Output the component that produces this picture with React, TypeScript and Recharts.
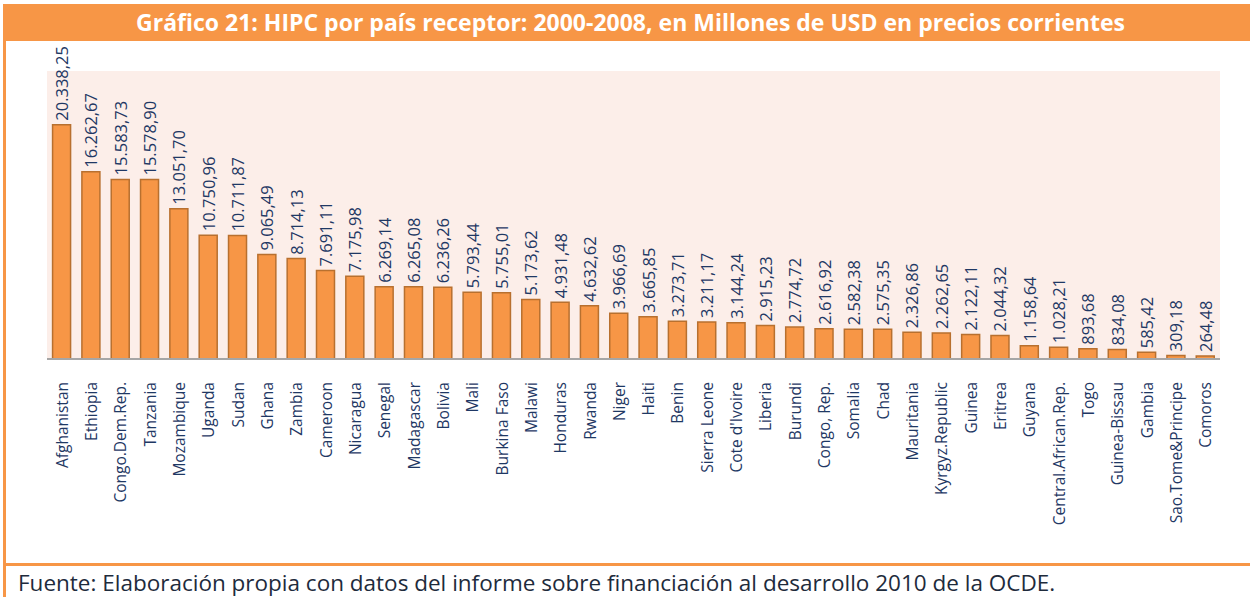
import React from "react";
import { BarChart, Bar, XAxis, YAxis, CartesianGrid, LabelList } from "recharts";

const countries = [
  "Afghanistan", "Ethiopia", "Congo.Dem.Rep.", "Tanzania", "Mozambique", "Uganda", "Sudan", "Ghana",
  "Zambia", "Cameroon", "Nicaragua", "Senegal", "Madagascar", "Bolivia", "Mali", "Burkina Faso",
  "Malawi", "Honduras", "Rwanda", "Niger", "Haiti", "Benin", "Sierra Leone", "Cote d'Ivoire",
  "Liberia", "Burundi", "Congo, Rep.", "Somalia", "Chad", "Mauritania", "Kyrgyz.Republic", "Guinea",
  "Eritrea", "Guyana", "Central.African.Rep.", "Togo", "Guinea-Bissau", "Gambia", "Sao.Tome&Principe", "Comoros",
];

const hipcValues = [
  20338.25, 16262.67, 15583.73, 15578.9, 13051.7, 10750.96, 10711.87, 9065.49,
  8714.13, 7691.11, 7175.98, 6269.14, 6265.08, 6236.26, 5793.44, 5755.01,
  5173.62, 4931.48, 4632.62, 3966.69, 3665.85, 3273.71, 3211.17, 3144.24,
  2915.23, 2774.72, 2616.92, 2582.38, 2575.35, 2326.86, 2262.65, 2122.11,
  2044.32, 1158.64, 1028.21, 893.68, 834.08, 585.42, 309.18, 264.48,
];

const yDomain = [0, 25000];

const TITLE = "Gráfico 21: HIPC por país receptor: 2000-2008, en Millones de USD en precios corrientes";
const SOURCE = "Fuente: Elaboración propia con datos del informe sobre financiación al desarrollo 2010 de la OCDE.";

const data = countries.map((c, i) => ({ name: c, value: hipcValues[i] }));

const ORANGE = "#F79646";
const NAVY = "#1F3864";
const FONT = "'Open Sans', 'Noto Sans', sans-serif";

function fmt(v: number): string {
  const [intPart, dec] = v.toFixed(2).split(".");
  const withDots = intPart.replace(/\B(?=(\d{3})+(?!\d))/g, ".");
  return `${withDots},${dec}`;
}

const ValueLabel = (props: any) => {
  const { x, y, width, value } = props;
  const cx = Number(x) + Number(width) / 2;
  const cy = Number(y) - 4;
  return (
    <text
      x={cx}
      y={cy}
      transform={`rotate(-90, ${cx}, ${cy})`}
      textAnchor="start"
      dominantBaseline="central"
      fill={NAVY}
      fontSize={16.5}
      fontFamily={FONT}
    >
      {fmt(Number(value))}
    </text>
  );
};

const CategoryTick = (props: any) => {
  const { x, y, payload } = props;
  const ty = Number(y);
  return (
    <text
      x={x}
      y={ty}
      transform={`rotate(-90, ${x}, ${ty})`}
      textAnchor="end"
      dominantBaseline="central"
      fill={NAVY}
      fontSize={15.5}
      fontFamily={FONT}
    >
      {payload.value}
    </text>
  );
};

export default function App() {
  return (
    <div style={{ position: "absolute", left: 0, top: 0, width: 1250, height: 597, background: "#fff", overflow: "hidden" }}>
      <div style={{ position: "absolute", left: 3, top: 4, width: 2.5, height: 593, background: ORANGE }} />
      <div
        style={{
          position: "absolute", left: 3, top: 4, width: 1247, height: 37, background: ORANGE,
          color: "#fff", fontFamily: FONT, fontWeight: 700, fontSize: 23, lineHeight: "37px",
          textAlign: "center", paddingLeft: 8, boxSizing: "border-box", whiteSpace: "nowrap",
        }}
      >
        {TITLE}
      </div>
      <div style={{ position: "absolute", left: 3, top: 563, width: 1247, height: 3, background: ORANGE }} />
      <div
        style={{
          position: "absolute", left: 18, top: 567, fontFamily: FONT, fontSize: 22.5, lineHeight: "32px",
          color: "#1E2B3C", whiteSpace: "nowrap",
        }}
      >
        {SOURCE}
      </div>
      <div style={{ position: "absolute", left: 0, top: 0 }}>
        <BarChart
          width={1250}
          height={597}
          data={data}
          margin={{ top: 71, right: 30, left: 47, bottom: 38 }}
          barCategoryGap="19%"
        >
          <CartesianGrid horizontal={false} vertical={false} fill="#FCEEE9" stroke="none" />
          <YAxis hide domain={yDomain} />
          <XAxis
            dataKey="name"
            interval={0}
            height={200}
            tickLine={false}
            axisLine={{ stroke: "#A6A6A6", strokeWidth: 2 }}
            tick={<CategoryTick />}
            tickMargin={17}
          />
          <Bar dataKey="value" fill={ORANGE} stroke="#B8702F" strokeWidth={1.5} isAnimationActive={false}>
            <LabelList dataKey="value" content={<ValueLabel />} />
          </Bar>
        </BarChart>
      </div>
    </div>
  );
}
